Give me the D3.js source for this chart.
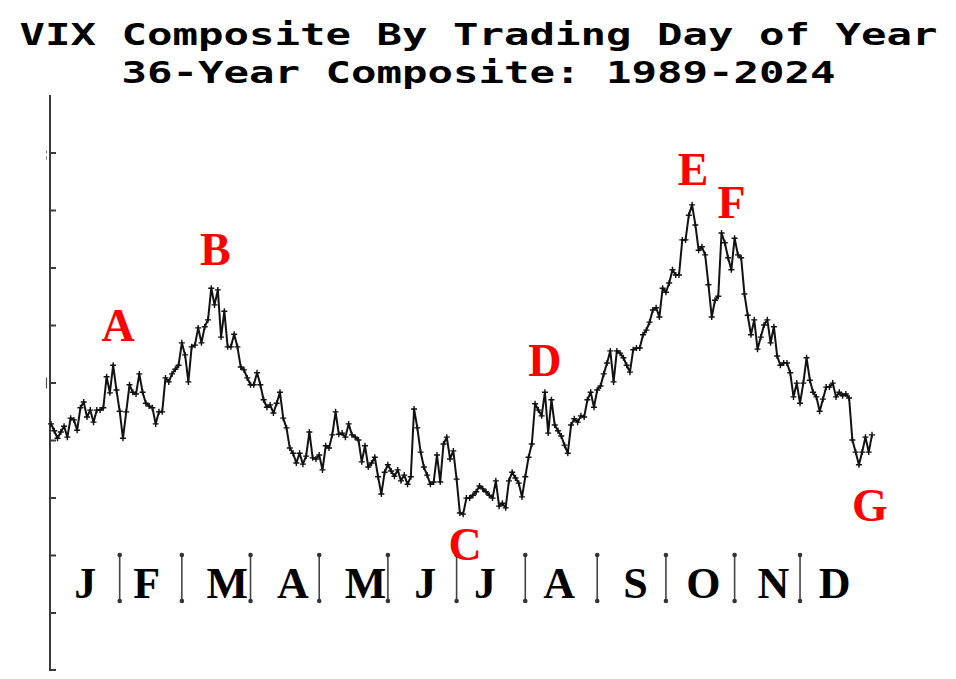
<!DOCTYPE html>
<html><head><meta charset="utf-8">
<script src="https://cdn.jsdelivr.net/npm/d3@7"></script>
<style>html,body{margin:0;padding:0;background:#fff;}svg{display:block}</style>
</head><body><svg id="chart" width="956" height="679"></svg>
<script>
// ---------- data ----------
const titleLines = ["VIX Composite By Trading Day of Year", "36-Year Composite: 1989-2024"];

// composite VIX level for trading days 1..252
const vixComposite = [
19.28,19.16,19.03,19.14,19.24,19.05,19.38,19.35,19.17,19.56,
19.66,19.40,19.52,19.31,19.52,19.52,19.56,20.10,19.82,20.30,
19.87,19.50,19.03,19.49,19.96,19.83,19.80,20.15,19.83,19.64,
19.59,19.56,19.28,19.49,19.49,20.08,20.01,20.15,20.23,20.30,
20.69,20.48,20.01,20.62,20.65,20.95,20.69,20.97,21.09,21.64,
21.35,21.61,20.79,21.24,20.62,20.62,20.84,20.62,20.27,20.22,
20.08,19.96,19.96,20.17,19.96,19.70,19.57,19.61,19.47,19.64,
19.83,19.38,19.21,18.86,18.77,18.60,18.77,18.58,18.72,19.14,
18.69,18.67,18.74,18.48,18.90,18.86,19.09,19.49,19.10,19.12,
19.05,19.28,19.09,19.05,19.00,18.62,18.90,18.53,18.60,18.70,
18.36,18.06,18.44,18.57,18.46,18.37,18.48,18.29,18.39,18.23,
18.36,19.54,19.21,18.79,18.53,18.39,18.23,18.27,18.74,18.27,
18.93,19.05,18.67,18.81,18.32,17.73,17.71,17.99,17.99,18.04,
18.10,18.20,18.15,18.10,18.04,17.99,18.29,17.85,17.90,17.82,
18.29,18.44,18.34,18.25,18.01,18.36,18.70,18.93,19.63,19.52,
19.42,19.83,19.12,19.70,19.26,19.16,19.07,18.91,18.77,19.26,
19.37,19.31,19.42,19.40,19.70,19.83,19.57,19.87,19.94,20.15,
20.34,20.55,20.01,20.55,20.51,20.43,20.30,20.18,20.57,20.60,
20.60,20.83,20.91,21.05,21.26,21.30,21.14,21.64,21.57,21.73,
21.96,21.87,21.87,22.48,22.48,22.91,23.09,22.74,22.30,22.36,
22.22,21.70,21.14,21.43,21.50,22.60,22.43,22.17,21.96,22.51,
22.22,22.17,21.54,21.17,20.83,21.09,20.58,20.79,21.00,21.09,
20.69,20.97,20.46,20.30,20.34,20.34,20.17,19.75,19.99,19.64,
19.99,20.43,20.04,19.83,19.75,19.50,19.71,19.92,19.92,19.99,
19.75,19.83,19.77,19.80,19.73,19.00,18.79,18.57,18.79,19.05,
18.79,19.09
];
const tradingDays = vixComposite.map((v, i) => i + 1);

const monthLabels = ["J","F","M","A","M","J","J","A","S","O","N","D"];
const monthStartDays = [1,22,41,62,83,104,125,146,168,189,210,230];
const yTickValues = [16,17,18,19,20,21,22,23,24];

const pointLabels = ["A","B","C","D","E","F","G"];
const pointLabelDays = [20,50,127,152,197,206,248];

// ---------- layout (not data) ----------
const monthLabelNudge = [0,-4,11,8,12,3,-6,-2,4,3,6,-3];
const pointLabelOffset = [[5,-24],[4,-23],[2,46],[0,-16],[1,-20],[10,-15],[11,56]];

const svg = d3.select("#chart");

const x = d3.scaleLinear().domain([1, 252]).range([51, 872]);
const y = d3.scaleLinear().domain([15, 25]).range([670, 95]);

// titles
svg.selectAll("text.title").data(titleLines).join("text")
  .attr("class", "title")
  .attr("x", 478.5)
  .attr("y", (d, i) => i === 0 ? 45 : 83)
  .attr("text-anchor", "middle")
  .attr("font-family", "'DejaVu Sans Mono', monospace")
  .attr("font-weight", "bold")
  .attr("font-size", 31)
  .attr("textLength", d => d.length * 25.5)
  .attr("lengthAdjust", "spacingAndGlyphs")
  .attr("fill", "#000")
  .text(d => d);

// y axis (no labels)
const yAxis = d3.axisRight(y).tickValues(yTickValues).tickSize(6).tickFormat("");
const gy = svg.append("g").attr("transform", "translate(50,0)").call(yAxis);
gy.select(".domain").attr("stroke", "#3a3a3a").attr("stroke-width", 2)
  .attr("d", `M0,${y(25)}V${y(15)}H6`);
gy.selectAll(".tick line").attr("stroke", "#3a3a3a").attr("stroke-width", 2);

// stray label remnants left of axis
svg.append("line").attr("x1", 46.5).attr("x2", 46.5).attr("y1", y(24) - 2).attr("y2", y(24) + 9)
  .attr("stroke", "#777").attr("stroke-width", 1).attr("stroke-dasharray", "3,3");
svg.append("line").attr("x1", 46.5).attr("x2", 46.5).attr("y1", y(20) - 5).attr("y2", y(20) + 6)
  .attr("stroke", "#555").attr("stroke-width", 1.2);

// month separators
const seps = monthStartDays.slice(1);
const gs = svg.append("g");
gs.selectAll("line").data(seps).join("line")
  .attr("x1", d => x(d)).attr("x2", d => x(d))
  .attr("y1", 555).attr("y2", 601)
  .attr("stroke", "#444").attr("stroke-width", 1.6);
gs.selectAll("circle").data(seps.flatMap(d => [[d, 555], [d, 601]])).join("circle")
  .attr("cx", d => x(d[0])).attr("cy", d => d[1]).attr("r", 2.3).attr("fill", "#333");

// month labels
svg.selectAll("text.month").data(monthLabels).join("text")
  .attr("class", "month")
  .attr("x", (d, i) => {
    const a = x(monthStartDays[i]);
    const b = i < 11 ? x(monthStartDays[i + 1]) : x(253);
    return (a + b) / 2 + monthLabelNudge[i];
  })
  .attr("y", 598)
  .attr("text-anchor", "middle")
  .attr("font-family", "'Liberation Serif', 'Times New Roman', serif")
  .attr("font-weight", "bold")
  .attr("font-size", 44)
  .attr("fill", "#000")
  .text(d => d);

// data line
const line = d3.line().x((d, i) => x(tradingDays[i])).y(d => y(d));
svg.append("path").datum(vixComposite)
  .attr("d", line).attr("fill", "none")
  .attr("stroke", "#111").attr("stroke-width", 2).attr("stroke-linejoin", "round");

// point markers (+)
svg.append("g").selectAll("path").data(vixComposite).join("path")
  .attr("transform", (d, i) => `translate(${x(tradingDays[i])},${y(d)})`)
  .attr("d", "M-3,0H3M0,-3V3")
  .attr("stroke", "#111").attr("stroke-width", 1.4);

// red annotation letters
svg.selectAll("text.pt").data(pointLabels).join("text")
  .attr("class", "pt")
  .attr("x", (d, i) => x(pointLabelDays[i]) + pointLabelOffset[i][0])
  .attr("y", (d, i) => y(vixComposite[pointLabelDays[i] - 1]) + pointLabelOffset[i][1])
  .attr("text-anchor", "middle")
  .attr("font-family", "'Liberation Serif', 'Times New Roman', serif")
  .attr("font-weight", "bold")
  .attr("font-size", 46)
  .attr("fill", "#ff0000")
  .text(d => d);
</script>
</body></html>
